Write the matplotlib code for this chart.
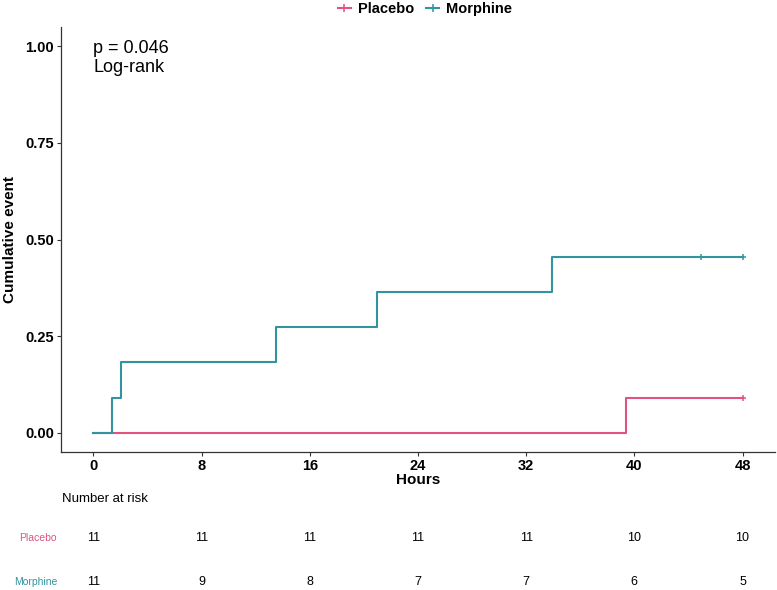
import matplotlib
matplotlib.use("Agg")
import matplotlib.pyplot as plt
from matplotlib.lines import Line2D

plt.rcParams['font.family'] = ['Liberation Sans', 'DejaVu Sans']

# ---- data ----
groups = ["Placebo", "Morphine"]
colors = {"Placebo": "#E2517F", "Morphine": "#3393A0"}
placebo_t = [0, 39.4, 48]
placebo_y = [0.0, 0.0909, 0.0909]
morphine_t = [0, 1.4, 2.0, 13.5, 21.0, 33.9, 48]
morphine_y = [0.0, 0.0909, 0.1818, 0.2727, 0.3636, 0.4545, 0.4545]
placebo_cens_t = [48]
placebo_cens_y = [0.0909]
morphine_cens_t = [44.9, 48]
morphine_cens_y = [0.4545, 0.4545]
xticks = [0, 8, 16, 24, 32, 40, 48]
yticks = [0.0, 0.25, 0.5, 0.75, 1.0]
risk_placebo = [11, 11, 11, 11, 11, 10, 10]
risk_morphine = [11, 9, 8, 7, 7, 6, 5]
pval_text = "p = 0.046\nLog-rank"

W, H = 777, 590
fig = plt.figure(figsize=(W / 100, H / 100), dpi=100)
ax = fig.add_axes([61 / W, 1 - 452 / H, (775 - 61) / W, (452 - 27) / H])

lw = 1.5
ax.step(placebo_t, placebo_y, where='post', color=colors["Placebo"], lw=lw, zorder=2)
ax.step(morphine_t, morphine_y, where='post', color=colors["Morphine"], lw=lw, zorder=3)
ax.plot(placebo_cens_t, placebo_cens_y, ls='none', marker='+', ms=5, mew=1.1,
        color=colors["Placebo"], zorder=4)
ax.plot(morphine_cens_t, morphine_cens_y, ls='none', marker='+', ms=5, mew=1.1,
        color=colors["Morphine"], zorder=4)

ax.set_xlim(-2.4, 50.4)
ax.set_ylim(-0.05, 1.05)
ax.set_xticks(xticks)
ax.set_yticks(yticks)
ax.set_xticklabels([str(v) for v in xticks], fontweight='bold', fontsize=10.5)
ax.set_yticklabels([f"{v:.2f}" for v in yticks], fontweight='bold', fontsize=10.5)
for s in ['top', 'right']:
    ax.spines[s].set_visible(False)
for s in ['left', 'bottom']:
    ax.spines[s].set_color('#333333')
    ax.spines[s].set_linewidth(0.9)
ax.tick_params(length=3, width=0.8, color='#333333', pad=2, labelcolor='black')
ax.set_xlabel("Hours", fontweight='bold', fontsize=11, labelpad=0)
ax.set_ylabel("Cumulative event", fontweight='bold', fontsize=11, labelpad=6)

ax.text(0, 1.017, pval_text, ha='left', va='top', fontsize=13, linespacing=1.2)

handles = [Line2D([0], [0], color=colors[g], lw=lw, marker='+', ms=6, mew=1.1) for g in groups]
fig.legend(handles, groups, loc='center', bbox_to_anchor=(425 / W, 1 - 9 / H), ncol=2,
           frameon=False, prop={'weight': 'bold', 'size': 10.5}, handlelength=0.9,
           handletextpad=0.5, columnspacing=0.8)

# ---- risk table ----
rax = fig.add_axes([61 / W, 0, (775 - 61) / W, (590 - 480) / H])
rax.set_xlim(-2.4, 50.4)
rax.set_ylim(590, 480)
rax.axis('off')
rax.text(-2.3, 499, "Number at risk", ha='left', va='center', fontsize=9.5)
for x, v in zip(xticks, risk_placebo):
    rax.text(x, 538, str(v), ha='center', va='center', fontsize=9)
for x, v in zip(xticks, risk_morphine):
    rax.text(x, 582, str(v), ha='center', va='center', fontsize=9)
fig.text(57 / W, 1 - 538 / H, "Placebo", ha='right', va='center', fontsize=7.5,
         color=colors["Placebo"])
fig.text(57 / W, 1 - 582 / H, "Morphine", ha='right', va='center', fontsize=7.5,
         color=colors["Morphine"])

fig.savefig("out.png", dpi=100)
